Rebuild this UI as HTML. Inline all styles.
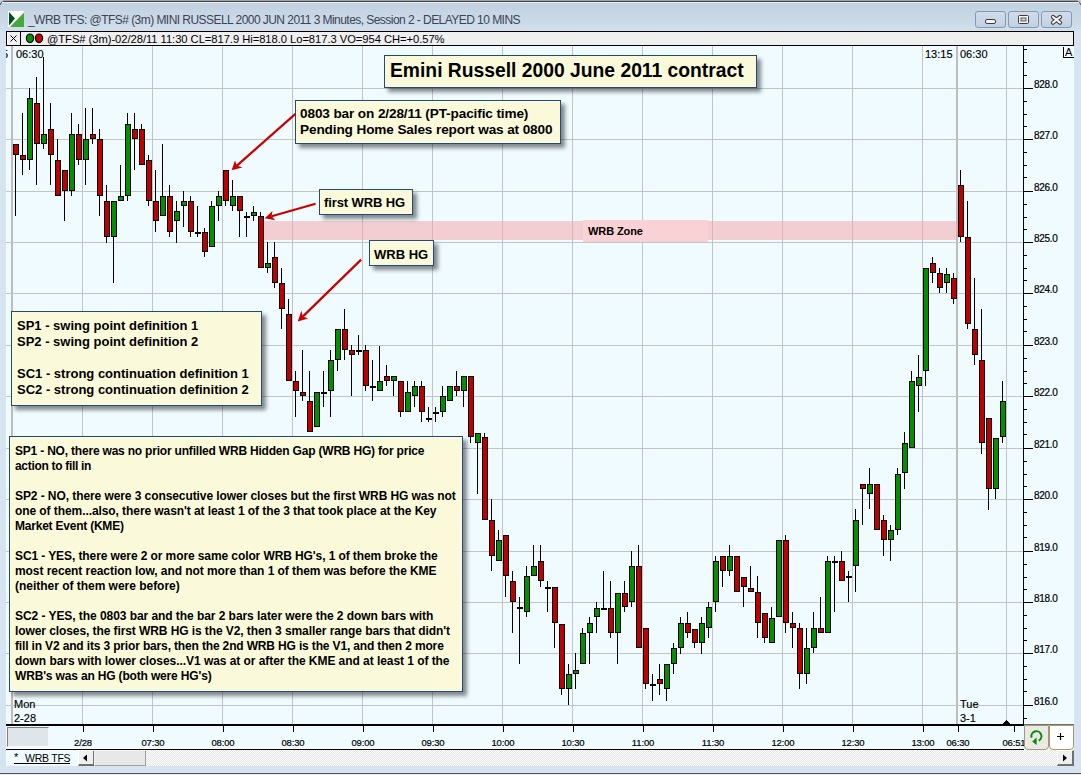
<!DOCTYPE html>
<html><head><meta charset="utf-8"><style>
*{margin:0;padding:0;box-sizing:border-box}
html,body{width:1081px;height:775px;overflow:hidden;background:#d6e3f1;font-family:"Liberation Sans",sans-serif}
.abs{position:absolute}
.chart{position:absolute;left:0;top:0}
#titlebar{position:absolute;left:0;top:0;width:1081px;height:31px;background:linear-gradient(#c0cfde 0px,#c4d3e2 8px,#d2dfec 31px)}
#topline{position:absolute;left:5px;top:1px;width:1071px;height:1px;background:#474747;border-radius:3px 3px 0 0}
#topline2{position:absolute;left:2px;top:2px;width:1077px;height:1px;background:#e6edf5}
#title{position:absolute;left:28px;top:13px;font-size:12px;color:#3a4454;white-space:nowrap;letter-spacing:-0.55px}
.btn{position:absolute;top:11px;width:31px;height:17px;border:1px solid #8797b4;border-radius:3px;background:linear-gradient(#d0dcea,#c2d1e2)}
#toolbar{position:absolute;left:6px;top:31px;width:1068px;height:15px;background:#efefef;border:1px solid #000}
#tbtext{position:absolute;left:47px;top:33px;letter-spacing:-0.04px;font-size:11.2px;line-height:13px;color:#000;white-space:nowrap}
.pl{position:absolute;left:1034px;font-size:10px;letter-spacing:-0.3px;-webkit-text-stroke:0.2px #000;height:12px;line-height:12px;color:#000}
.tl{position:absolute;top:737px;width:60px;text-align:center;font-size:9.5px;line-height:11px;color:#000;letter-spacing:-0.15px;-webkit-text-stroke:0.2px #000}
.box{position:absolute;background:#fafadb;border:1px solid #244a7c;box-shadow:4px 4px 4px rgba(0,0,0,0.45);color:#000;font-weight:bold;white-space:nowrap}
#tab{position:absolute;left:6px;top:750px;width:72px;height:16px;background:#effbff}
#track{position:absolute;left:78px;top:750px;width:996px;height:16px;background:repeating-conic-gradient(#e6e6e6 0 25%,#fcfcfc 0 50%) 0 0/2px 2px}
.sbtn{position:absolute;top:750px;width:17px;height:16px;background:#efefef;border-right:2px solid #707070;border-bottom:2px solid #707070;border-left:1px solid #fff;border-top:1px solid #fff}
.bl{height:15px}
.lbl{position:absolute;font-size:11px;color:#000;-webkit-text-stroke:0.15px #000;white-space:nowrap;line-height:12px}
</style></head><body>
<div id="titlebar"></div>
<div class="abs" style="left:3px;top:0;width:1075px;height:1px;background:#a0a4a8"></div>
<div id="topline"></div>
<svg class="abs" style="left:1071px;top:0" width="10" height="10"><path d="M0 1.5 L6 1.5 Q9 1.5 10 5" fill="none" stroke="#474747" stroke-width="1"/><path d="M6 0 L10 0 L10 4 Q10 0 6 0 Z" fill="#c8c8c8"/></svg>
<svg class="abs" style="left:0;top:0" width="10" height="10"><path d="M10 1.5 L4 1.5 Q1 1.5 0 5" fill="none" stroke="#474747" stroke-width="1"/></svg>
<div id="topline2"></div>
<svg class="abs" style="left:8px;top:11px" width="16" height="16"><rect width="16" height="16" fill="#fff"/><path d="M1 1 L1 14.5 L7 7.5 Z" fill="#00501a"/><path d="M2 16 L16 16 L16 1.5 Z" fill="#44a83c"/></svg>
<div id="title">_WRB TFS: @TFS# (3m) MINI RUSSELL 2000 JUN 2011 3 Minutes, Session 2 - DELAYED 10 MINS</div>
<div class="btn" style="left:975px"></div>
<div class="btn" style="left:1008px"></div>
<div class="btn" style="left:1041px"></div>
<svg class="abs" style="left:975px;top:11px" width="100" height="17">
<rect x="10.5" y="8.5" width="10" height="4" rx="1.5" fill="#f4f4f4" stroke="#3c3c3c"/>
<rect x="43.5" y="4.5" width="10" height="8" rx="1" fill="#f4f4f4" stroke="#3c3c3c"/>
<rect x="46" y="7" width="5" height="3" fill="#c6d4e4" stroke="#3c3c3c" stroke-width="0.8"/>
<path d="M78 6 L85 11.6 M85 6 L78 11.6" stroke="#3c3c3c" stroke-width="4.2" stroke-linecap="round"/>
<path d="M78 6 L85 11.6 M85 6 L78 11.6" stroke="#f2f2f2" stroke-width="2.2" stroke-linecap="round"/>
</svg>
<div id="toolbar"></div>
<div class="abs" style="left:7px;top:32px;width:1px;height:13px;background:#fff"></div>
<div class="abs" style="left:20px;top:31px;width:1px;height:15px;background:#000"></div>
<svg class="abs" style="left:6px;top:31px" width="50" height="15">
<path d="M4.5 4.5 L10.5 10.5 M10.5 4.5 L4.5 10.5" stroke="#000" stroke-width="1"/>
<ellipse cx="24" cy="7.3" rx="3.6" ry="4.3" fill="#009000" stroke="#000" stroke-width="1.2"/>
<ellipse cx="33" cy="7.3" rx="3.6" ry="4.3" fill="#c80000" stroke="#000" stroke-width="1.2"/>
</svg>
<svg class="chart" width="1081" height="775" shape-rendering="crispEdges">
<rect x="6" y="46" width="1068" height="704" fill="#effbff"/>
<rect x="82" y="46" width="1" height="679" fill="#c4c4c4"/><rect x="152" y="46" width="1" height="679" fill="#c4c4c4"/><rect x="222" y="46" width="1" height="679" fill="#c4c4c4"/><rect x="292" y="46" width="1" height="679" fill="#c4c4c4"/><rect x="362" y="46" width="1" height="679" fill="#c4c4c4"/><rect x="432" y="46" width="1" height="679" fill="#c4c4c4"/><rect x="502" y="46" width="1" height="679" fill="#c4c4c4"/><rect x="572" y="46" width="1" height="679" fill="#c4c4c4"/><rect x="642" y="46" width="1" height="679" fill="#c4c4c4"/><rect x="712" y="46" width="1" height="679" fill="#c4c4c4"/><rect x="782" y="46" width="1" height="679" fill="#c4c4c4"/><rect x="852" y="46" width="1" height="679" fill="#c4c4c4"/><rect x="922" y="46" width="1" height="679" fill="#c4c4c4"/><rect x="1006" y="46" width="1" height="679" fill="#c4c4c4"/><rect x="11" y="46" width="2" height="679" fill="#bdbdbd"/><rect x="956" y="46" width="2" height="679" fill="#bdbdbd"/><rect x="6" y="88" width="1017" height="1" fill="#c4c4c4"/><rect x="6" y="139" width="1017" height="1" fill="#c4c4c4"/><rect x="6" y="191" width="1017" height="1" fill="#c4c4c4"/><rect x="6" y="242" width="1017" height="1" fill="#c4c4c4"/><rect x="6" y="293" width="1017" height="1" fill="#c4c4c4"/><rect x="6" y="345" width="1017" height="1" fill="#c4c4c4"/><rect x="6" y="396" width="1017" height="1" fill="#c4c4c4"/><rect x="6" y="448" width="1017" height="1" fill="#c4c4c4"/><rect x="6" y="499" width="1017" height="1" fill="#c4c4c4"/><rect x="6" y="551" width="1017" height="1" fill="#c4c4c4"/><rect x="6" y="602" width="1017" height="1" fill="#c4c4c4"/><rect x="6" y="653" width="1017" height="1" fill="#c4c4c4"/><rect x="6" y="705" width="1017" height="1" fill="#c4c4c4"/>
<rect x="264" y="221" width="693" height="19" fill="rgb(245,159,165)" fill-opacity="0.5"/>
<rect x="583" y="220" width="125" height="22" fill="#f8d2d5"/>
<g fill="#000"><rect x="15" y="144" width="1" height="72"/><rect x="13" y="144" width="6" height="11"/><rect x="14" y="145" width="4" height="9" fill="#c00000"/><rect x="22" y="113" width="1" height="62"/><rect x="20" y="155" width="6" height="5"/><rect x="21" y="156" width="4" height="3" fill="#c00000"/><rect x="29" y="88" width="1" height="82"/><rect x="27" y="98" width="6" height="62"/><rect x="28" y="99" width="4" height="60" fill="#009000"/><rect x="36" y="77" width="1" height="108"/><rect x="34" y="103" width="6" height="41"/><rect x="35" y="104" width="4" height="39" fill="#c00000"/><rect x="43" y="57" width="1" height="92"/><rect x="41" y="134" width="6" height="10"/><rect x="42" y="135" width="4" height="8" fill="#009000"/><rect x="50" y="103" width="1" height="82"/><rect x="48" y="129" width="6" height="26"/><rect x="49" y="130" width="4" height="24" fill="#c00000"/><rect x="57" y="139" width="1" height="57"/><rect x="55" y="160" width="6" height="36"/><rect x="56" y="161" width="4" height="34" fill="#c00000"/><rect x="64" y="170" width="1" height="51"/><rect x="62" y="170" width="6" height="21"/><rect x="63" y="171" width="4" height="19" fill="#c00000"/><rect x="71" y="113" width="1" height="83"/><rect x="69" y="134" width="6" height="57"/><rect x="70" y="135" width="4" height="55" fill="#009000"/><rect x="78" y="124" width="1" height="41"/><rect x="76" y="134" width="6" height="26"/><rect x="77" y="135" width="4" height="24" fill="#c00000"/><rect x="85" y="108" width="1" height="77"/><rect x="83" y="139" width="6" height="21"/><rect x="84" y="140" width="4" height="19" fill="#009000"/><rect x="92" y="108" width="1" height="36"/><rect x="90" y="134" width="6" height="5"/><rect x="91" y="135" width="4" height="3" fill="#c00000"/><rect x="99" y="129" width="1" height="87"/><rect x="97" y="139" width="6" height="57"/><rect x="98" y="140" width="4" height="55" fill="#c00000"/><rect x="106" y="185" width="1" height="58"/><rect x="104" y="201" width="6" height="36"/><rect x="105" y="202" width="4" height="34" fill="#c00000"/><rect x="113" y="201" width="1" height="82"/><rect x="111" y="201" width="6" height="36"/><rect x="112" y="202" width="4" height="34" fill="#009000"/><rect x="120" y="165" width="1" height="36"/><rect x="118" y="196" width="6" height="5"/><rect x="119" y="197" width="4" height="3" fill="#009000"/><rect x="127" y="113" width="1" height="88"/><rect x="125" y="124" width="6" height="72"/><rect x="126" y="125" width="4" height="70" fill="#009000"/><rect x="134" y="113" width="1" height="57"/><rect x="132" y="129" width="6" height="10"/><rect x="133" y="130" width="4" height="8" fill="#c00000"/><rect x="141" y="124" width="1" height="41"/><rect x="139" y="129" width="6" height="36"/><rect x="140" y="130" width="4" height="34" fill="#c00000"/><rect x="148" y="155" width="1" height="51"/><rect x="146" y="160" width="6" height="41"/><rect x="147" y="161" width="4" height="39" fill="#c00000"/><rect x="155" y="170" width="1" height="62"/><rect x="153" y="201" width="6" height="20"/><rect x="154" y="202" width="4" height="18" fill="#c00000"/><rect x="162" y="144" width="1" height="72"/><rect x="160" y="196" width="6" height="20"/><rect x="161" y="197" width="4" height="18" fill="#009000"/><rect x="169" y="185" width="1" height="52"/><rect x="167" y="196" width="6" height="36"/><rect x="168" y="197" width="4" height="34" fill="#c00000"/><rect x="176" y="201" width="1" height="42"/><rect x="174" y="211" width="6" height="10"/><rect x="175" y="212" width="4" height="8" fill="#009000"/><rect x="183" y="191" width="1" height="36"/><rect x="181" y="201" width="6" height="5"/><rect x="182" y="202" width="4" height="3" fill="#009000"/><rect x="190" y="196" width="1" height="41"/><rect x="188" y="201" width="6" height="31"/><rect x="189" y="202" width="4" height="29" fill="#c00000"/><rect x="197" y="206" width="1" height="31"/><rect x="195" y="232" width="6" height="2"/><rect x="204" y="228" width="1" height="29"/><rect x="202" y="232" width="6" height="20"/><rect x="203" y="233" width="4" height="18" fill="#c00000"/><rect x="211" y="201" width="1" height="46"/><rect x="209" y="206" width="6" height="41"/><rect x="210" y="207" width="4" height="39" fill="#009000"/><rect x="218" y="191" width="1" height="30"/><rect x="216" y="196" width="6" height="10"/><rect x="217" y="197" width="4" height="8" fill="#009000"/><rect x="225" y="170" width="1" height="36"/><rect x="223" y="170" width="6" height="31"/><rect x="224" y="171" width="4" height="29" fill="#c00000"/><rect x="232" y="180" width="1" height="31"/><rect x="230" y="196" width="6" height="10"/><rect x="231" y="197" width="4" height="8" fill="#009000"/><rect x="239" y="196" width="1" height="41"/><rect x="237" y="196" width="6" height="15"/><rect x="238" y="197" width="4" height="13" fill="#c00000"/><rect x="246" y="212" width="1" height="25"/><rect x="244" y="216" width="6" height="2"/><rect x="253" y="206" width="1" height="15"/><rect x="251" y="212" width="6" height="4"/><rect x="252" y="213" width="4" height="2" fill="#009000"/><rect x="260" y="212" width="1" height="56"/><rect x="258" y="216" width="6" height="52"/><rect x="259" y="217" width="4" height="50" fill="#c00000"/><rect x="267" y="242" width="1" height="31"/><rect x="265" y="263" width="6" height="5"/><rect x="266" y="264" width="4" height="3" fill="#009000"/><rect x="274" y="242" width="1" height="46"/><rect x="272" y="257" width="6" height="26"/><rect x="273" y="258" width="4" height="24" fill="#c00000"/><rect x="281" y="268" width="1" height="61"/><rect x="279" y="283" width="6" height="26"/><rect x="280" y="284" width="4" height="24" fill="#c00000"/><rect x="288" y="299" width="1" height="82"/><rect x="286" y="314" width="6" height="67"/><rect x="287" y="315" width="4" height="65" fill="#c00000"/><rect x="295" y="371" width="1" height="46"/><rect x="293" y="381" width="6" height="10"/><rect x="294" y="382" width="4" height="8" fill="#c00000"/><rect x="302" y="350" width="1" height="51"/><rect x="300" y="392" width="6" height="4"/><rect x="301" y="393" width="4" height="2" fill="#c00000"/><rect x="309" y="371" width="1" height="61"/><rect x="307" y="401" width="6" height="31"/><rect x="308" y="402" width="4" height="29" fill="#c00000"/><rect x="316" y="392" width="1" height="35"/><rect x="314" y="392" width="6" height="35"/><rect x="315" y="393" width="4" height="33" fill="#009000"/><rect x="323" y="371" width="1" height="36"/><rect x="321" y="392" width="6" height="2"/><rect x="330" y="350" width="1" height="67"/><rect x="328" y="360" width="6" height="31"/><rect x="329" y="361" width="4" height="29" fill="#009000"/><rect x="337" y="329" width="1" height="42"/><rect x="335" y="329" width="6" height="31"/><rect x="336" y="330" width="4" height="29" fill="#009000"/><rect x="344" y="309" width="1" height="51"/><rect x="342" y="329" width="6" height="21"/><rect x="343" y="330" width="4" height="19" fill="#c00000"/><rect x="351" y="345" width="1" height="51"/><rect x="349" y="350" width="6" height="5"/><rect x="350" y="351" width="4" height="3" fill="#c00000"/><rect x="358" y="335" width="1" height="20"/><rect x="356" y="350" width="6" height="2"/><rect x="365" y="345" width="1" height="46"/><rect x="363" y="350" width="6" height="36"/><rect x="364" y="351" width="4" height="34" fill="#c00000"/><rect x="372" y="360" width="1" height="41"/><rect x="370" y="386" width="6" height="2"/><rect x="379" y="346" width="1" height="45"/><rect x="377" y="381" width="6" height="10"/><rect x="378" y="382" width="4" height="8" fill="#009000"/><rect x="386" y="365" width="1" height="21"/><rect x="384" y="376" width="6" height="5"/><rect x="385" y="377" width="4" height="3" fill="#c00000"/><rect x="393" y="376" width="1" height="20"/><rect x="391" y="376" width="6" height="5"/><rect x="392" y="377" width="4" height="3" fill="#009000"/><rect x="400" y="381" width="1" height="36"/><rect x="398" y="381" width="6" height="31"/><rect x="399" y="382" width="4" height="29" fill="#c00000"/><rect x="407" y="381" width="1" height="31"/><rect x="405" y="392" width="6" height="20"/><rect x="406" y="393" width="4" height="18" fill="#009000"/><rect x="414" y="381" width="1" height="26"/><rect x="412" y="386" width="6" height="10"/><rect x="413" y="387" width="4" height="8" fill="#009000"/><rect x="421" y="381" width="1" height="41"/><rect x="419" y="386" width="6" height="26"/><rect x="420" y="387" width="4" height="24" fill="#c00000"/><rect x="428" y="407" width="1" height="15"/><rect x="426" y="418" width="6" height="2"/><rect x="435" y="407" width="1" height="15"/><rect x="433" y="412" width="6" height="2"/><rect x="442" y="386" width="1" height="31"/><rect x="440" y="396" width="6" height="16"/><rect x="441" y="397" width="4" height="14" fill="#009000"/><rect x="449" y="386" width="1" height="15"/><rect x="447" y="386" width="6" height="15"/><rect x="448" y="387" width="4" height="13" fill="#009000"/><rect x="456" y="371" width="1" height="25"/><rect x="454" y="386" width="6" height="5"/><rect x="455" y="387" width="4" height="3" fill="#c00000"/><rect x="463" y="376" width="1" height="31"/><rect x="461" y="376" width="6" height="15"/><rect x="462" y="377" width="4" height="13" fill="#009000"/><rect x="470" y="376" width="1" height="67"/><rect x="468" y="376" width="6" height="61"/><rect x="469" y="377" width="4" height="59" fill="#c00000"/><rect x="477" y="433" width="1" height="61"/><rect x="475" y="433" width="6" height="10"/><rect x="476" y="434" width="4" height="8" fill="#009000"/><rect x="484" y="433" width="1" height="87"/><rect x="482" y="437" width="6" height="83"/><rect x="483" y="438" width="4" height="81" fill="#c00000"/><rect x="491" y="499" width="1" height="72"/><rect x="489" y="520" width="6" height="36"/><rect x="490" y="521" width="4" height="34" fill="#c00000"/><rect x="498" y="530" width="1" height="31"/><rect x="496" y="540" width="6" height="21"/><rect x="497" y="541" width="4" height="19" fill="#009000"/><rect x="505" y="535" width="1" height="62"/><rect x="503" y="535" width="6" height="41"/><rect x="504" y="536" width="4" height="39" fill="#c00000"/><rect x="512" y="571" width="1" height="62"/><rect x="510" y="581" width="6" height="21"/><rect x="511" y="582" width="4" height="19" fill="#c00000"/><rect x="519" y="597" width="1" height="67"/><rect x="517" y="607" width="6" height="2"/><rect x="526" y="566" width="1" height="51"/><rect x="524" y="576" width="6" height="36"/><rect x="525" y="577" width="4" height="34" fill="#009000"/><rect x="533" y="545" width="1" height="31"/><rect x="531" y="566" width="6" height="10"/><rect x="532" y="567" width="4" height="8" fill="#009000"/><rect x="540" y="545" width="1" height="42"/><rect x="538" y="561" width="6" height="20"/><rect x="539" y="562" width="4" height="18" fill="#c00000"/><rect x="547" y="581" width="1" height="31"/><rect x="545" y="587" width="6" height="2"/><rect x="554" y="587" width="1" height="61"/><rect x="552" y="587" width="6" height="36"/><rect x="553" y="588" width="4" height="34" fill="#c00000"/><rect x="561" y="624" width="1" height="71"/><rect x="559" y="624" width="6" height="65"/><rect x="560" y="625" width="4" height="63" fill="#c00000"/><rect x="568" y="664" width="1" height="41"/><rect x="566" y="674" width="6" height="15"/><rect x="567" y="675" width="4" height="13" fill="#009000"/><rect x="575" y="653" width="1" height="36"/><rect x="573" y="670" width="6" height="4"/><rect x="574" y="671" width="4" height="2" fill="#009000"/><rect x="582" y="628" width="1" height="36"/><rect x="580" y="633" width="6" height="31"/><rect x="581" y="634" width="4" height="29" fill="#009000"/><rect x="589" y="617" width="1" height="47"/><rect x="587" y="623" width="6" height="10"/><rect x="588" y="624" width="4" height="8" fill="#009000"/><rect x="596" y="602" width="1" height="31"/><rect x="594" y="608" width="6" height="9"/><rect x="595" y="609" width="4" height="7" fill="#009000"/><rect x="603" y="571" width="1" height="38"/><rect x="601" y="608" width="6" height="2"/><rect x="610" y="581" width="1" height="57"/><rect x="608" y="608" width="6" height="25"/><rect x="609" y="609" width="4" height="23" fill="#c00000"/><rect x="617" y="593" width="1" height="71"/><rect x="615" y="593" width="6" height="40"/><rect x="616" y="594" width="4" height="38" fill="#009000"/><rect x="624" y="581" width="1" height="31"/><rect x="622" y="593" width="6" height="14"/><rect x="623" y="594" width="4" height="12" fill="#c00000"/><rect x="631" y="551" width="1" height="56"/><rect x="629" y="566" width="6" height="36"/><rect x="630" y="567" width="4" height="34" fill="#009000"/><rect x="638" y="545" width="1" height="103"/><rect x="636" y="566" width="6" height="82"/><rect x="637" y="567" width="4" height="80" fill="#c00000"/><rect x="645" y="628" width="1" height="61"/><rect x="643" y="628" width="6" height="56"/><rect x="644" y="629" width="4" height="54" fill="#c00000"/><rect x="652" y="674" width="1" height="27"/><rect x="650" y="684" width="6" height="2"/><rect x="659" y="664" width="1" height="31"/><rect x="657" y="679" width="6" height="5"/><rect x="658" y="680" width="4" height="3" fill="#c00000"/><rect x="666" y="664" width="1" height="37"/><rect x="664" y="664" width="6" height="25"/><rect x="665" y="665" width="4" height="23" fill="#009000"/><rect x="673" y="643" width="1" height="31"/><rect x="671" y="648" width="6" height="16"/><rect x="672" y="649" width="4" height="14" fill="#009000"/><rect x="680" y="617" width="1" height="37"/><rect x="678" y="623" width="6" height="25"/><rect x="679" y="624" width="4" height="23" fill="#009000"/><rect x="687" y="612" width="1" height="26"/><rect x="685" y="623" width="6" height="10"/><rect x="686" y="624" width="4" height="8" fill="#c00000"/><rect x="694" y="629" width="1" height="19"/><rect x="692" y="629" width="6" height="14"/><rect x="693" y="630" width="4" height="12" fill="#c00000"/><rect x="701" y="617" width="1" height="37"/><rect x="699" y="623" width="6" height="20"/><rect x="700" y="624" width="4" height="18" fill="#009000"/><rect x="708" y="602" width="1" height="36"/><rect x="706" y="607" width="6" height="21"/><rect x="707" y="608" width="4" height="19" fill="#009000"/><rect x="715" y="556" width="1" height="56"/><rect x="713" y="561" width="6" height="41"/><rect x="714" y="562" width="4" height="39" fill="#009000"/><rect x="722" y="556" width="1" height="31"/><rect x="720" y="556" width="6" height="15"/><rect x="721" y="557" width="4" height="13" fill="#c00000"/><rect x="729" y="545" width="1" height="31"/><rect x="727" y="556" width="6" height="15"/><rect x="728" y="557" width="4" height="13" fill="#009000"/><rect x="736" y="556" width="1" height="36"/><rect x="734" y="556" width="6" height="36"/><rect x="735" y="557" width="4" height="34" fill="#c00000"/><rect x="743" y="577" width="1" height="30"/><rect x="741" y="577" width="6" height="10"/><rect x="742" y="578" width="4" height="8" fill="#c00000"/><rect x="750" y="566" width="1" height="26"/><rect x="748" y="588" width="6" height="4"/><rect x="749" y="589" width="4" height="2" fill="#c00000"/><rect x="757" y="576" width="1" height="62"/><rect x="755" y="592" width="6" height="31"/><rect x="756" y="593" width="4" height="29" fill="#c00000"/><rect x="764" y="613" width="1" height="30"/><rect x="762" y="613" width="6" height="25"/><rect x="763" y="614" width="4" height="23" fill="#c00000"/><rect x="771" y="607" width="1" height="36"/><rect x="769" y="618" width="6" height="25"/><rect x="770" y="619" width="4" height="23" fill="#009000"/><rect x="778" y="540" width="1" height="77"/><rect x="776" y="540" width="6" height="77"/><rect x="777" y="541" width="4" height="75" fill="#009000"/><rect x="785" y="535" width="1" height="98"/><rect x="783" y="540" width="6" height="83"/><rect x="784" y="541" width="4" height="81" fill="#c00000"/><rect x="792" y="612" width="1" height="36"/><rect x="790" y="623" width="6" height="5"/><rect x="791" y="624" width="4" height="3" fill="#c00000"/><rect x="799" y="623" width="1" height="66"/><rect x="797" y="628" width="6" height="46"/><rect x="798" y="629" width="4" height="44" fill="#c00000"/><rect x="806" y="628" width="1" height="56"/><rect x="804" y="648" width="6" height="26"/><rect x="805" y="649" width="4" height="24" fill="#009000"/><rect x="813" y="612" width="1" height="41"/><rect x="811" y="628" width="6" height="20"/><rect x="812" y="629" width="4" height="18" fill="#009000"/><rect x="820" y="597" width="1" height="36"/><rect x="818" y="628" width="6" height="5"/><rect x="819" y="629" width="4" height="3" fill="#c00000"/><rect x="827" y="556" width="1" height="77"/><rect x="825" y="561" width="6" height="72"/><rect x="826" y="562" width="4" height="70" fill="#009000"/><rect x="834" y="556" width="1" height="56"/><rect x="832" y="561" width="6" height="2"/><rect x="841" y="551" width="1" height="30"/><rect x="839" y="561" width="6" height="20"/><rect x="840" y="562" width="4" height="18" fill="#c00000"/><rect x="848" y="571" width="1" height="31"/><rect x="846" y="576" width="6" height="2"/><rect x="855" y="509" width="1" height="83"/><rect x="853" y="520" width="6" height="46"/><rect x="854" y="521" width="4" height="44" fill="#009000"/><rect x="862" y="484" width="1" height="41"/><rect x="860" y="484" width="6" height="5"/><rect x="861" y="485" width="4" height="3" fill="#c00000"/><rect x="869" y="468" width="1" height="41"/><rect x="867" y="484" width="6" height="10"/><rect x="868" y="485" width="4" height="8" fill="#009000"/><rect x="876" y="484" width="1" height="46"/><rect x="874" y="484" width="6" height="46"/><rect x="875" y="485" width="4" height="44" fill="#c00000"/><rect x="883" y="515" width="1" height="41"/><rect x="881" y="520" width="6" height="20"/><rect x="882" y="521" width="4" height="18" fill="#c00000"/><rect x="890" y="525" width="1" height="36"/><rect x="888" y="530" width="6" height="10"/><rect x="889" y="531" width="4" height="8" fill="#009000"/><rect x="897" y="468" width="1" height="67"/><rect x="895" y="474" width="6" height="56"/><rect x="896" y="475" width="4" height="54" fill="#009000"/><rect x="904" y="432" width="1" height="57"/><rect x="902" y="443" width="6" height="30"/><rect x="903" y="444" width="4" height="28" fill="#009000"/><rect x="911" y="371" width="1" height="77"/><rect x="909" y="381" width="6" height="67"/><rect x="910" y="382" width="4" height="65" fill="#009000"/><rect x="918" y="355" width="1" height="57"/><rect x="916" y="377" width="6" height="9"/><rect x="917" y="378" width="4" height="7" fill="#009000"/><rect x="925" y="268" width="1" height="118"/><rect x="923" y="268" width="6" height="103"/><rect x="924" y="269" width="4" height="101" fill="#009000"/><rect x="932" y="257" width="1" height="26"/><rect x="930" y="263" width="6" height="10"/><rect x="931" y="264" width="4" height="8" fill="#c00000"/><rect x="939" y="268" width="1" height="25"/><rect x="937" y="273" width="6" height="15"/><rect x="938" y="274" width="4" height="13" fill="#c00000"/><rect x="946" y="268" width="1" height="25"/><rect x="944" y="274" width="6" height="9"/><rect x="945" y="275" width="4" height="7" fill="#009000"/><rect x="953" y="273" width="1" height="31"/><rect x="951" y="278" width="6" height="21"/><rect x="952" y="279" width="4" height="19" fill="#c00000"/><rect x="960" y="170" width="1" height="72"/><rect x="958" y="185" width="6" height="52"/><rect x="959" y="186" width="4" height="50" fill="#c00000"/><rect x="967" y="201" width="1" height="128"/><rect x="965" y="237" width="6" height="87"/><rect x="966" y="238" width="4" height="85" fill="#c00000"/><rect x="974" y="278" width="1" height="87"/><rect x="972" y="329" width="6" height="26"/><rect x="973" y="330" width="4" height="24" fill="#c00000"/><rect x="981" y="309" width="1" height="145"/><rect x="979" y="360" width="6" height="83"/><rect x="980" y="361" width="4" height="81" fill="#c00000"/><rect x="988" y="418" width="1" height="92"/><rect x="986" y="418" width="6" height="71"/><rect x="987" y="419" width="4" height="69" fill="#c00000"/><rect x="995" y="438" width="1" height="61"/><rect x="993" y="438" width="6" height="51"/><rect x="994" y="439" width="4" height="49" fill="#009000"/><rect x="1002" y="381" width="1" height="62"/><rect x="1000" y="401" width="6" height="36"/><rect x="1001" y="402" width="4" height="34" fill="#009000"/></g>
<rect x="1023" y="46" width="1" height="680" fill="#000"/><rect x="6" y="724" width="1018" height="2" fill="#000"/><rect x="1023" y="88" width="10" height="1" fill="#000"/><rect x="1023" y="101" width="4" height="1" fill="#000"/><rect x="1023" y="114" width="4" height="1" fill="#000"/><rect x="1023" y="126" width="4" height="1" fill="#000"/><rect x="1023" y="75" width="4" height="1" fill="#000"/><rect x="1023" y="62" width="4" height="1" fill="#000"/><rect x="1023" y="49" width="4" height="1" fill="#000"/><rect x="1023" y="139" width="10" height="1" fill="#000"/><rect x="1023" y="152" width="4" height="1" fill="#000"/><rect x="1023" y="165" width="4" height="1" fill="#000"/><rect x="1023" y="177" width="4" height="1" fill="#000"/><rect x="1023" y="191" width="10" height="1" fill="#000"/><rect x="1023" y="204" width="4" height="1" fill="#000"/><rect x="1023" y="217" width="4" height="1" fill="#000"/><rect x="1023" y="229" width="4" height="1" fill="#000"/><rect x="1023" y="242" width="10" height="1" fill="#000"/><rect x="1023" y="255" width="4" height="1" fill="#000"/><rect x="1023" y="268" width="4" height="1" fill="#000"/><rect x="1023" y="280" width="4" height="1" fill="#000"/><rect x="1023" y="293" width="10" height="1" fill="#000"/><rect x="1023" y="306" width="4" height="1" fill="#000"/><rect x="1023" y="319" width="4" height="1" fill="#000"/><rect x="1023" y="331" width="4" height="1" fill="#000"/><rect x="1023" y="345" width="10" height="1" fill="#000"/><rect x="1023" y="358" width="4" height="1" fill="#000"/><rect x="1023" y="371" width="4" height="1" fill="#000"/><rect x="1023" y="383" width="4" height="1" fill="#000"/><rect x="1023" y="396" width="10" height="1" fill="#000"/><rect x="1023" y="409" width="4" height="1" fill="#000"/><rect x="1023" y="422" width="4" height="1" fill="#000"/><rect x="1023" y="434" width="4" height="1" fill="#000"/><rect x="1023" y="448" width="10" height="1" fill="#000"/><rect x="1023" y="461" width="4" height="1" fill="#000"/><rect x="1023" y="474" width="4" height="1" fill="#000"/><rect x="1023" y="486" width="4" height="1" fill="#000"/><rect x="1023" y="499" width="10" height="1" fill="#000"/><rect x="1023" y="512" width="4" height="1" fill="#000"/><rect x="1023" y="525" width="4" height="1" fill="#000"/><rect x="1023" y="537" width="4" height="1" fill="#000"/><rect x="1023" y="551" width="10" height="1" fill="#000"/><rect x="1023" y="564" width="4" height="1" fill="#000"/><rect x="1023" y="577" width="4" height="1" fill="#000"/><rect x="1023" y="589" width="4" height="1" fill="#000"/><rect x="1023" y="602" width="10" height="1" fill="#000"/><rect x="1023" y="615" width="4" height="1" fill="#000"/><rect x="1023" y="628" width="4" height="1" fill="#000"/><rect x="1023" y="640" width="4" height="1" fill="#000"/><rect x="1023" y="653" width="10" height="1" fill="#000"/><rect x="1023" y="666" width="4" height="1" fill="#000"/><rect x="1023" y="679" width="4" height="1" fill="#000"/><rect x="1023" y="691" width="4" height="1" fill="#000"/><rect x="1023" y="705" width="10" height="1" fill="#000"/><rect x="1023" y="718" width="4" height="1" fill="#000"/><rect x="83" y="726" width="1" height="6" fill="#000"/><rect x="153" y="726" width="1" height="6" fill="#000"/><rect x="223" y="726" width="1" height="6" fill="#000"/><rect x="293" y="726" width="1" height="6" fill="#000"/><rect x="363" y="726" width="1" height="6" fill="#000"/><rect x="433" y="726" width="1" height="6" fill="#000"/><rect x="503" y="726" width="1" height="6" fill="#000"/><rect x="573" y="726" width="1" height="6" fill="#000"/><rect x="643" y="726" width="1" height="6" fill="#000"/><rect x="713" y="726" width="1" height="6" fill="#000"/><rect x="783" y="726" width="1" height="6" fill="#000"/><rect x="853" y="726" width="1" height="6" fill="#000"/><rect x="923" y="726" width="1" height="6" fill="#000"/><rect x="958" y="726" width="1" height="6" fill="#000"/><rect x="1014" y="726" width="1" height="6" fill="#000"/>
<path d="M1006.5 719.5 L1010 724 L1003 724 Z" fill="#000"/>
<g shape-rendering="geometricPrecision"><line x1="295.4" y1="113.9" x2="236.9" y2="165.6" stroke="#c80000" stroke-width="2.2"/><path d="M231.6 170.2 L235.0 160.6 L236.9 165.6 L242.4 167.6 Z" fill="#c80000"/><line x1="315.6" y1="203.7" x2="271.6" y2="216.2" stroke="#c80000" stroke-width="2.2"/><path d="M264.7 218.2 L272.5 210.9 L271.6 216.2 L275.2 220.2 Z" fill="#c80000"/><line x1="361.1" y1="259.6" x2="303.0" y2="316.4" stroke="#c80000" stroke-width="2.2"/><path d="M297.7 321.5 L301.4 310.8 L303.0 316.4 L308.1 318.5 Z" fill="#c80000"/></g>
</svg>
<div id="tbtext">@TFS# (3m)-02/28/11 11:30 CL=817.9 Hi=818.0 Lo=817.3 VO=954 CH=+0.57%</div>
<div class="pl" style="top:79px">828.0</div><div class="pl" style="top:130px">827.0</div><div class="pl" style="top:182px">826.0</div><div class="pl" style="top:233px">825.0</div><div class="pl" style="top:284px">824.0</div><div class="pl" style="top:336px">823.0</div><div class="pl" style="top:387px">822.0</div><div class="pl" style="top:439px">821.0</div><div class="pl" style="top:490px">820.0</div><div class="pl" style="top:542px">819.0</div><div class="pl" style="top:593px">818.0</div><div class="pl" style="top:644px">817.0</div><div class="pl" style="top:696px">816.0</div><div class="tl" style="left:53px">2/28</div><div class="tl" style="left:123px">07:30</div><div class="tl" style="left:193px">08:00</div><div class="tl" style="left:263px">08:30</div><div class="tl" style="left:333px">09:00</div><div class="tl" style="left:403px">09:30</div><div class="tl" style="left:473px">10:00</div><div class="tl" style="left:543px">10:30</div><div class="tl" style="left:613px">11:00</div><div class="tl" style="left:683px">11:30</div><div class="tl" style="left:753px">12:00</div><div class="tl" style="left:823px">12:30</div><div class="tl" style="left:893px">13:00</div><div class="tl" style="left:928px">06:30</div><div class="tl" style="left:984px">06:51</div>
<div class="lbl" style="left:16px;top:48px">06:30</div>
<div class="lbl" style="left:6px;top:48px;width:2px;overflow:hidden;direction:rtl">5</div>
<div class="lbl" style="left:925px;top:48px">13:15</div>
<div class="lbl" style="left:960px;top:48px">06:30</div>
<div class="lbl" style="left:14px;top:698px">Mon</div>
<div class="lbl" style="left:14px;top:712px">2-28</div>
<div class="lbl" style="left:960px;top:698px">Tue</div>
<div class="lbl" style="left:960px;top:712px">3-1</div>
<div class="abs" style="left:1063px;top:47px;width:11px;height:11px;border-left:1px solid #000;border-bottom:1px solid #000;font-size:11px;line-height:10px;padding-left:1px">A</div>
<div class="box" style="left:384px;top:55px;width:373px;height:33px;font-size:19.3px;padding:4px 0 0 5px">Emini Russell 2000 June 2011 contract</div>
<div class="box" style="left:295px;top:100px;width:266px;height:44px;font-size:13.6px;line-height:16px;padding:5px 0 0 4px;letter-spacing:-0.12px">0803 bar on 2/28/11 (PT-pacific time)<br>Pending Home Sales report was at 0800</div>
<div class="box" style="left:319px;top:189px;width:94px;height:26px;font-size:13px;padding:5px 0 0 4px;letter-spacing:-0.1px">first WRB HG</div>
<div class="box" style="left:369px;top:240px;width:65px;height:26px;font-size:13px;padding:6px 0 0 4px">WRB HG</div>
<div class="box" style="left:11px;top:311px;width:251px;height:95px;font-size:13px;line-height:16px;padding:6px 0 0 5px">SP1 - swing point definition 1<br>SP2 - swing point definition 2<br><br>SC1 - strong continuation definition 1<br>SC2 - strong continuation definition 2</div>
<div class="box" style="left:9px;top:436px;width:454px;height:256px;font-size:12px;line-height:15px;padding:7px 0 0 5px"><div class="bl"><span style="letter-spacing:-0.199px">SP1 - NO, there was no prior unfilled WRB Hidden Gap (WRB HG) for price</span></div><div class="bl"><span style="letter-spacing:-0.308px">action to fill in</span></div><div class="bl">&nbsp;</div><div class="bl"><span style="letter-spacing:-0.080px">SP2 - NO, there were 3 consecutive lower closes but the first WRB HG was not</span></div><div class="bl"><span style="letter-spacing:-0.078px">one of them...also, there wasn't at least 1 of the 3 that took place at the Key</span></div><div class="bl"><span style="letter-spacing:-0.222px">Market Event (KME)</span></div><div class="bl">&nbsp;</div><div class="bl"><span style="letter-spacing:-0.096px">SC1 - YES, there were 2 or more same color WRB HG's, 1 of them broke the</span></div><div class="bl"><span style="letter-spacing:-0.067px">most recent reaction low, and not more than 1 of them was before the KME</span></div><div class="bl"><span style="letter-spacing:-0.023px">(neither of them were before)</span></div><div class="bl">&nbsp;</div><div class="bl"><span style="letter-spacing:-0.059px">SC2 - YES, the 0803 bar and the bar 2 bars later were the 2 down bars with</span></div><div class="bl"><span style="letter-spacing:-0.084px">lower closes, the first WRB HG is the V2, then 3 smaller range bars that didn't</span></div><div class="bl"><span style="letter-spacing:-0.153px">fill in V2 and its 3 prior bars, then the 2nd WRB HG is the V1, and then 2 more</span></div><div class="bl"><span style="letter-spacing:-0.055px">down bars with lower closes...V1 was at or after the KME and at least 1 of the</span></div><div class="bl"><span style="letter-spacing:-0.164px">WRB's was an HG (both were HG's)</span></div></div>
<div class="abs" style="left:588px;top:225px;font-size:11px;font-weight:bold;letter-spacing:-0.1px">WRB Zone</div>
<div class="abs" style="left:7px;top:727px;width:42px;height:20px;background:#dfe6ea;border-top:1px solid #808080;border-left:1px solid #808080;border-right:1px solid #f8f8f8;border-bottom:1px solid #f8f8f8"></div>
<div id="tab"></div>
<div class="abs" style="left:6px;top:748px;width:1018px;height:1px;background:#fff"></div><div class="abs" style="left:6px;top:749px;width:1018px;height:1px;background:#000"></div>
<div id="track"></div>
<div class="abs" style="left:14px;top:751px;width:56px;height:13px;border-bottom:1px solid #000"></div><div class="abs" style="left:14px;top:751px;font-size:11px;line-height:12px;color:#000">*</div><div class="abs" style="left:25px;top:752px;font-size:10.5px;line-height:12px;color:#000;white-space:nowrap;letter-spacing:-0.25px">WRB TFS</div>
<div class="sbtn" style="left:78px"></div>
<svg class="abs" style="left:78px;top:750px" width="16" height="16"><path d="M5 8 L9 4.5 L9 11.5 Z" fill="#000"/></svg>
<div class="abs" style="left:94px;top:750px;width:52px;height:16px;background:#e8e8e8;border:1px solid #a0a0a0;border-top-color:#f4f4f4;border-left-color:#f4f4f4"></div>
<div class="sbtn" style="left:1057px"></div>
<svg class="abs" style="left:1057px;top:750px" width="16" height="16"><path d="M6 4.5 L10 8 L6 11.5 Z" fill="#000"/></svg>
<div class="abs" style="left:1024px;top:724px;width:50px;height:1px;background:#707070"></div>
<div class="abs" style="left:1024px;top:725px;width:25px;height:25px;background:#e9e9e9;border:1px solid #a89870;border-radius:0 0 4px 4px"></div>
<div class="abs" style="left:1049px;top:725px;width:25px;height:25px;background:#fff;border:1px solid #a89870;border-radius:0 0 4px 4px"></div>
<svg class="abs" style="left:1024px;top:725px" width="50" height="25">
<rect x="4" y="4" width="16" height="16" fill="#ebe8dc"/>
<path d="M7.6 12.6 A5 5 0 1 1 14.8 15.6" fill="none" stroke="#008a10" stroke-width="2"/>
<path d="M8.2 16.6 L12.6 12.4 L12.6 20 Z" fill="#008a10"/>
<path d="M36.5 8 L36.5 15 M33 11.5 L40 11.5" stroke="#000" stroke-width="1.2"/>
</svg>
<div class="abs" style="left:0;top:771px;width:1081px;height:2px;background:#dae5f1"></div>
<div class="abs" style="left:0;top:773px;width:1081px;height:1px;background:#505050"></div>
<div class="abs" style="left:0;top:774px;width:1081px;height:1px;background:#f0f0f0"></div>
</body></html>
